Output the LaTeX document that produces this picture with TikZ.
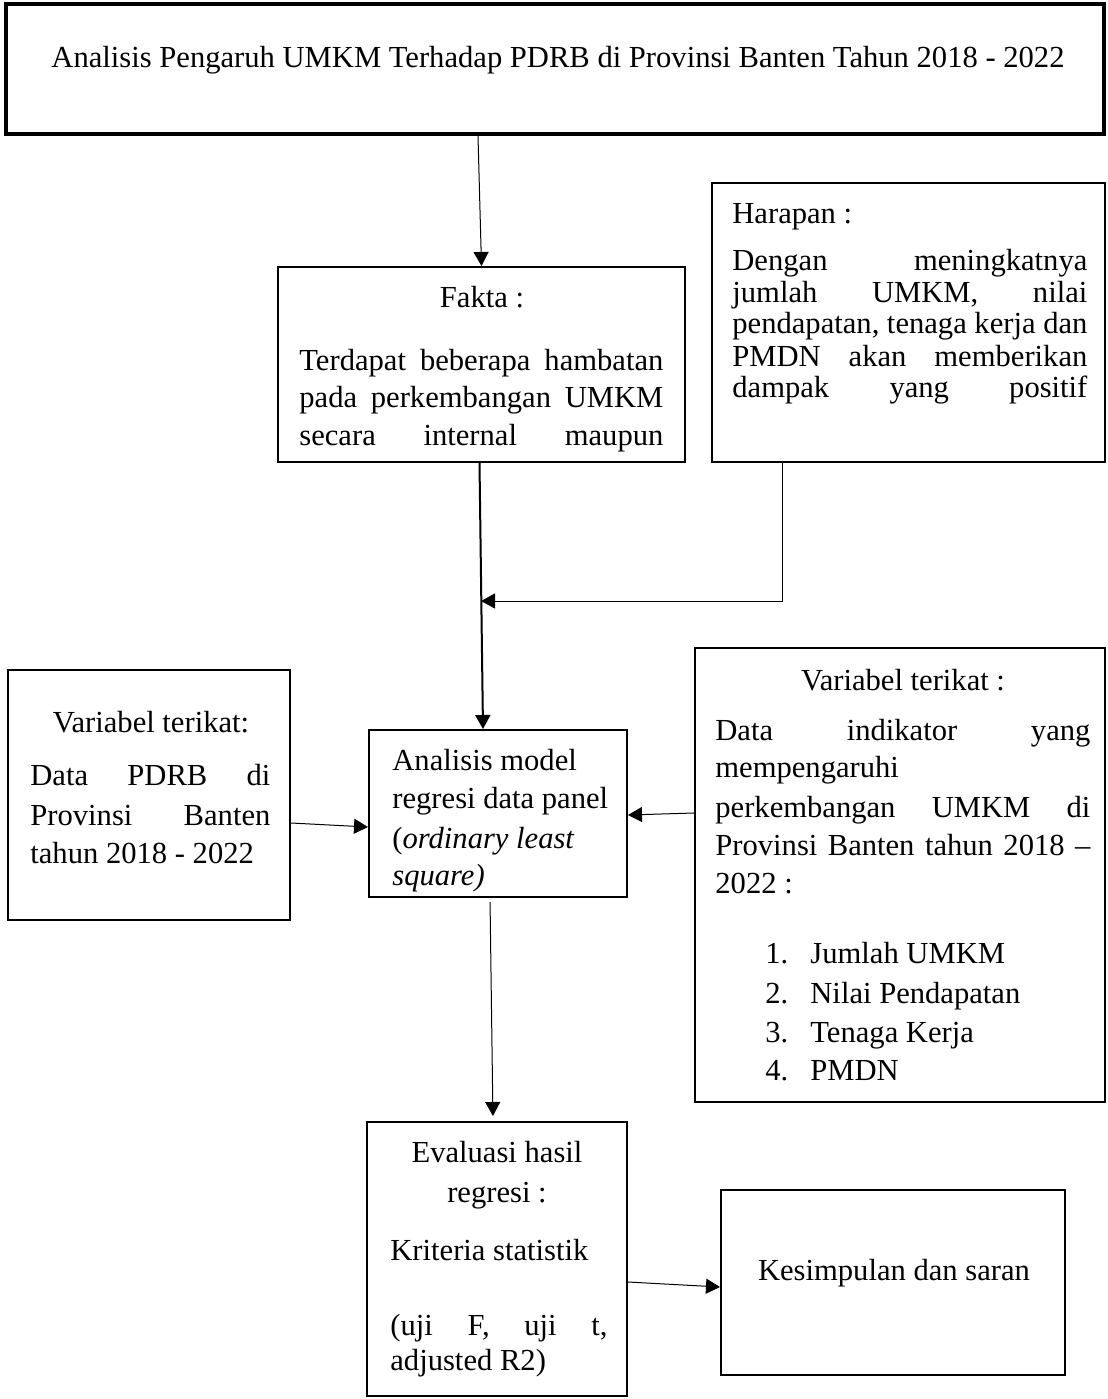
\documentclass[tikz,border=0pt]{standalone}
\usepackage{fontspec}
\setmainfont{Liberation Serif}
\usetikzlibrary{arrows.meta,fit,calc}
\newcommand\dfont{\fontsize{15.3pt}{18pt}\selectfont}
\newcommand\jl[2]{\makebox[#1][s]{#2}}
\begin{document}
\begin{tikzpicture}[x=0.5pt,y=-0.5pt,
  box/.style={draw=black,line width=1pt,inner sep=0pt},
  tbox/.style={draw=black,line width=1.8pt,inner sep=0pt},
  txt/.style={anchor=base west,inner sep=0pt,font=\dfont},
  ctxt/.style={anchor=base,inner sep=0pt,font=\dfont},
  conn/.style={line width=0.5pt,-{Triangle[length=7pt,width=7.5pt]}},
  connb/.style={line width=1pt,-{Triangle[length=7pt,width=7.5pt]}}]
\useasboundingbox (0,0) rectangle (1108,1399);
% boxes
\node[tbox,fit={(6,4)(1104,134)}] (title) {};
\node[box,fit={(278,267)(685,462)}] (fakta) {};
\node[box,fit={(712,183)(1105,462)}] (harapan) {};
\node[box,fit={(8,670)(290,920)}] (lbox) {};
\node[box,fit={(369,730)(627,897)}] (analisis) {};
\node[box,fit={(695,648)(1105,1102)}] (rbox) {};
\node[box,fit={(367,1122)(627,1396)}] (eval) {};
\node[box,fit={(721,1190)(1065,1375)}] (kesim) {};
% title
\node[ctxt] (ttl) at (558,67) {Analisis Pengaruh UMKM Terhadap PDRB di Provinsi Banten Tahun 2018 - 2022};
% fakta
\node[ctxt] (f0) at (482,307) {Fakta :};
\node[txt] (f1) at (299,370) {\jl{182pt}{Terdapat beberapa hambatan}};
\node[txt] (f2) at (299,407.5) {\jl{182pt}{pada perkembangan UMKM}};
\node[txt] (f3) at (299,445) {\jl{182pt}{secara internal maupun}};
% harapan
\node[txt] (h0) at (732,223) {Harapan :};
\node[txt] (h1) at (732,270) {\jl{177.5pt}{Dengan meningkatnya}};
\node[txt] (h2) at (732,302) {\jl{177.5pt}{jumlah UMKM, nilai}};
\node[txt] (h3) at (732,333.5) {\jl{177.5pt}{pendapatan, tenaga kerja dan}};
\node[txt] (h4) at (732,366) {\jl{177.5pt}{PMDN akan memberikan}};
\node[txt] (h5) at (732,397) {\jl{177.5pt}{dampak yang positif}};
% left box
\node[ctxt] (l0) at (151,732) {Variabel terikat:};
\node[txt] (l1) at (30,785) {\jl{120pt}{Data PDRB di}};
\node[txt] (l2) at (30,825) {\jl{120pt}{Provinsi Banten}};
\node[txt] (l3) at (30,863) {tahun 2018 - 2022};
% analisis
\node[txt] (a1) at (392,770) {Analisis model};
\node[txt] (a2) at (392,808) {regresi data panel};
\node[txt] (a3) at (392,848) {(\textit{ordinary least}};
\node[txt] (a4) at (392,885) {\textit{square)}};
% right box
\node[ctxt] (r0) at (903,690) {Variabel terikat :};
\node[txt] (r1) at (715,740) {\jl{187.5pt}{Data indikator yang}};
\node[txt] (r2) at (715,777) {mempengaruhi};
\node[txt] (r3) at (715,817) {\jl{187.5pt}{perkembangan UMKM di}};
\node[txt] (r4) at (715,855) {\jl{187.5pt}{Provinsi Banten tahun 2018 –}};
\node[txt] (r5) at (715,893) {2022 :};
\node[txt] (n1) at (765,963) {1.};
\node[txt] (i1) at (810,963) {Jumlah UMKM};
\node[txt] (n2) at (765,1003) {2.};
\node[txt] (i2) at (810,1003) {Nilai Pendapatan};
\node[txt] (n3) at (765,1042) {3.};
\node[txt] (i3) at (810,1042) {Tenaga Kerja};
\node[txt] (n4) at (765,1080) {4.};
\node[txt] (i4) at (810,1080) {PMDN};
% evaluasi
\node[ctxt] (e1) at (497,1162) {Evaluasi hasil};
\node[ctxt] (e2) at (497,1202) {regresi :};
\node[txt] (e3) at (390,1260) {Kriteria statistik};
\node[txt] (e4) at (390,1335) {\jl{108.5pt}{(uji F, uji t,}};
\node[txt] (e5) at (390,1370) {adjusted R2)};
% kesimpulan
\node[ctxt] (k1) at (894,1280) {Kesimpulan dan saran};
% connectors
\draw[conn] ([xshift=-38.5pt]title.south) -- (fakta.north);
\draw[connb] ([xshift=-1pt]fakta.south) -- ([xshift=-7.5pt]analisis.north);
\coordinate (j) at (481,601);
\draw[conn] ([xshift=-63.25pt]harapan.south) |- (j);
\draw[conn] ([yshift=-14pt]lbox.east) -- ([yshift=-6.75pt]analisis.west);
\draw[conn] ([yshift=31pt]rbox.west) -- ([yshift=-0.75pt]analisis.east);
\draw[conn,shorten <=2pt,shorten >=2.5pt] ([xshift=-4pt]analisis.south) -- ([xshift=-2pt]eval.north);
\draw[conn] ([yshift=-11.5pt]eval.east) -- ([yshift=-2.25pt]kesim.west);
\end{tikzpicture}
\end{document}
